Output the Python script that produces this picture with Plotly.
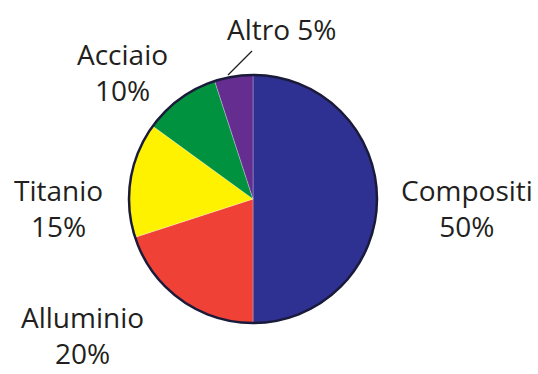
import plotly.graph_objects as go

# Composition of materials
materials = ["Compositi", "Alluminio", "Titanio", "Acciaio", "Altro"]
shares = [50, 20, 15, 10, 5]
colors = ["#2E3192", "#EF4136", "#FFF200", "#00923F", "#662D91"]

W, H = 538, 374
cx, cy, r = 253, 199, 124  # pie centre and radius in pixels (from top)

fig = go.Figure(go.Pie(
    labels=materials,
    values=shares,
    sort=False,
    direction="clockwise",
    rotation=0,
    textinfo="none",
    hoverinfo="skip",
    showlegend=False,
    marker=dict(colors=colors, line=dict(color="rgba(255,255,255,0.45)", width=0.6)),
    domain=dict(x=[(cx - r) / W, (cx + r) / W], y=[(H - cy - r) / H, (H - cy + r) / H]),
))

# outer rim of the pie
fig.add_shape(type="circle", xref="paper", yref="paper",
              x0=(cx - r) / W, x1=(cx + r) / W,
              y0=(H - cy - r) / H, y1=(H - cy + r) / H,
              line=dict(color="#1A1A3A", width=2.5))

font = dict(family="Open Sans", size=28, color="#231F20")

# label anchor in pixels from top-left: (x, y, yanchor)
placements = {
    "Compositi": (467, 208, "middle"),
    "Alluminio": (82, 374, "bottom"),
    "Titanio": (58, 208, "middle"),
    "Acciaio": (122, 72, "middle"),
}
for name, val in zip(materials, shares):
    if name in placements:
        x, y, ya = placements[name]
        text = f"{name}<br>{val}%"
    else:
        x, y, ya = 281, 29, "middle"
        text = f"{name} {val}%"
    fig.add_annotation(x=x / W, y=1 - y / H, xref="paper", yref="paper", text=text,
                       showarrow=False, font=font, align="center",
                       xanchor="center", yanchor=ya)

# leader line for the smallest slice
fig.add_shape(type="line", xref="paper", yref="paper",
              x0=228 / W, y0=1 - 75 / H, x1=252 / W, y1=1 - 51 / H,
              line=dict(color="#231F20", width=1.2))

fig.update_layout(width=W, height=H, margin=dict(l=0, r=0, t=0, b=0),
                  paper_bgcolor="white", plot_bgcolor="white")
fig.write_html("out.html")
